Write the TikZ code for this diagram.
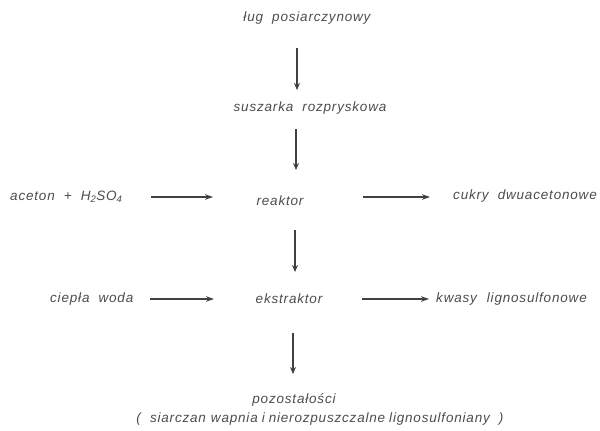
\documentclass[tikz,border=0pt]{standalone}
\usepackage{fontspec}
\setmainfont{Liberation Sans}
\usetikzlibrary{arrows.meta}
\newfontfamily\letterfont[LetterSpace=6,WordSpace=2.0]{Liberation Sans}
\begin{document}
\begin{tikzpicture}[x=1pt,y=-1pt,
  lbl/.style={font=\letterfont\itshape\fontsize{13.5}{15}\selectfont, text=black!70, inner sep=1pt},
  flow/.style={draw=black!75, line width=2.8pt, -{Stealth[length=7pt,width=6pt]}},
  feed/.style={draw=black!75, line width=2.5pt, -{Stealth[length=8pt,width=5.5pt]}}]
\useasboundingbox (0,0) rectangle (600,431);
\node[lbl] (lug) at (307,18) {ług posiarczynowy};
\node[lbl] (susz) at (310,108) {suszarka rozpryskowa};
\node[lbl, anchor=west] (ac) at (9,197) {aceton + H\textsubscript{2}SO\textsubscript{4}};
\node[lbl] (reak) at (280,201) {reaktor};
\node[lbl, anchor=west] (cuk) at (452,196) {cukry dwuacetonowe};
\node[lbl, anchor=west] (ciep) at (49,299) {ciepła woda};
\node[lbl] (ekst) at (289,299) {ekstraktor};
\node[lbl, anchor=west] (kw) at (435,299) {kwasy\hspace{10pt}lignosulfonowe};
\node[lbl] (poz) at (294,400) {pozostałości};
\node[lbl] (sia) at (320,419) {( siarczan\hspace{5pt}wapnia\hspace{4pt}i\hspace{4pt}nierozpuszczalne\hspace{4pt}lignosulfoniany )};

% main line of the process
\draw[flow] ([shift={(-10,30)}]lug.center) -- ([shift={(-13,-18)}]susz.center);
\draw[flow] ([shift={(-14,21)}]susz.center) -- ([shift={(16,-31)}]reak.center);
\draw[flow] ([shift={(15,29)}]reak.center) -- ([shift={(6,-27)}]ekst.center);
\draw[flow] ([shift={(4,34)}]ekst.center) -- ([shift={(-1,-26)}]poz.center);
% side feeds and products
\draw[feed] ([shift={(142,0)}]ac.west) -- ([shift={(-67,-4)}]reak.center);
\draw[feed] ([shift={(83,-4)}]reak.center) -- ([shift={(-22,1)}]cuk.west);
\draw[feed] ([shift={(101,0)}]ciep.west) -- ([shift={(-75,0)}]ekst.center);
\draw[feed] ([shift={(73,0)}]ekst.center) -- ([shift={(-6,0)}]kw.west);
\end{tikzpicture}
\end{document}
